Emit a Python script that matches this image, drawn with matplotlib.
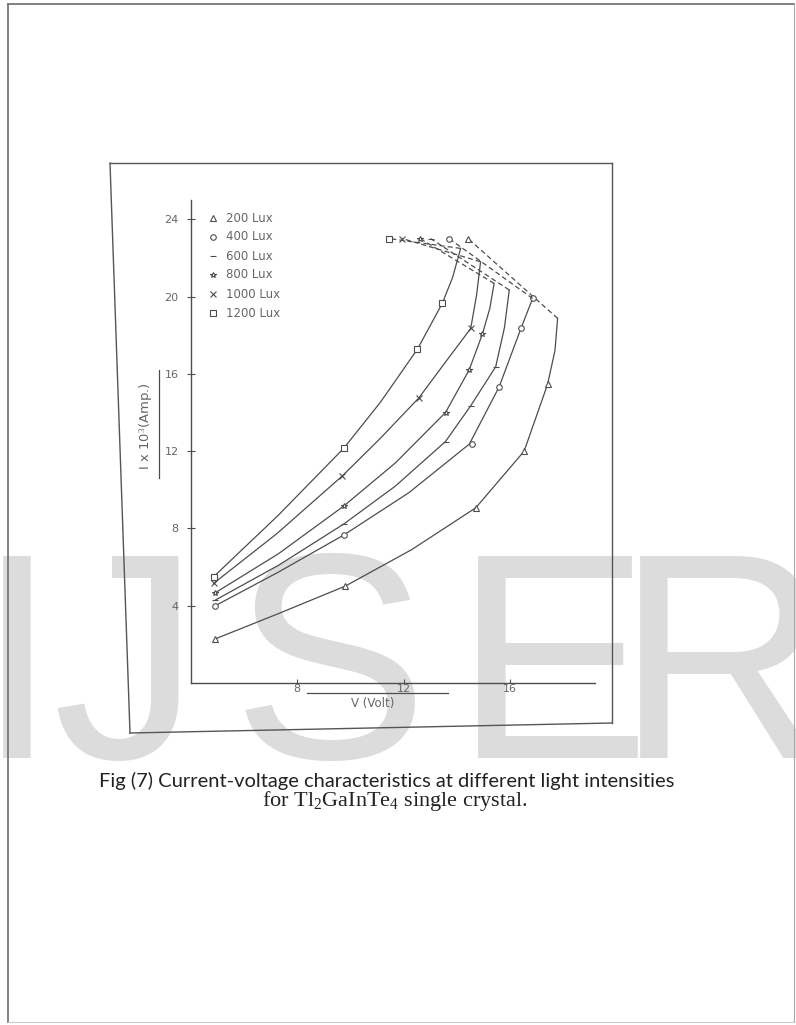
import matplotlib
matplotlib.use('Agg')
import matplotlib.pyplot as plt

W, H = 796, 1025
plt.rcParams['mathtext.fontset'] = 'custom'
plt.rcParams['mathtext.rm'] = 'Liberation Serif'
plt.rcParams['mathtext.it'] = 'Liberation Serif:italic'

# ---------------- data ----------------
series_labels = ['200 Lux', '400 Lux', '600 Lux', '800 Lux', '1000 Lux', '1200 Lux']

# traced solid curves (V in volt, I in 1e-3 A)
curve_v_200 = [4.9, 7.3, 9.81, 12.3, 14.72, 16.54, 17.42, 17.7, 17.8]
curve_i_200 = [2.28, 3.6, 5.02, 6.9, 9.07, 12.0, 15.45, 17.2, 18.87]
curve_v_400 = [4.91, 7.3, 9.75, 12.2, 14.48, 15.6, 16.42, 16.86]
curve_i_400 = [4.0, 5.75, 7.66, 9.85, 12.37, 15.33, 18.35, 19.9]
curve_v_600 = [4.91, 7.3, 9.75, 11.7, 13.58, 14.53, 15.47, 15.8, 15.98]
curve_i_600 = [4.29, 6.1, 8.23, 10.2, 12.5, 14.35, 16.37, 18.4, 20.34]
curve_v_800 = [4.91, 7.3, 9.75, 11.7, 13.58, 14.47, 14.97, 15.25, 15.41]
curve_i_800 = [4.67, 6.7, 9.16, 11.4, 14.0, 16.2, 18.06, 19.4, 20.68]
curve_v_1000 = [4.85, 7.23, 9.69, 11.13, 12.58, 13.52, 14.53, 14.75, 14.9]
curve_i_1000 = [5.16, 7.73, 10.71, 12.67, 14.76, 16.5, 18.35, 20.08, 21.8]
curve_v_1200 = [4.85, 7.29, 9.75, 11.13, 12.52, 13.46, 13.85, 14.15]
curve_i_1200 = [5.5, 8.69, 12.15, 14.53, 17.27, 19.65, 21.0, 22.49]

# measured points (markers)
pts_v_200 = [4.9, 9.81, 14.72, 16.54, 17.42]
pts_i_200 = [2.28, 5.02, 9.07, 12.0, 15.45]
pts_v_400 = [4.91, 9.75, 14.59, 15.6, 16.42, 16.86]
pts_i_400 = [4.0, 7.66, 12.37, 15.33, 18.35, 19.9]
pts_v_600 = [4.91, 9.75, 13.58, 14.53, 15.47]
pts_i_600 = [4.29, 8.23, 12.5, 14.35, 16.37]
pts_v_800 = [4.91, 9.75, 13.58, 14.47, 14.97]
pts_i_800 = [4.67, 9.16, 14.0, 16.2, 18.06]
pts_v_1000 = [4.85, 9.69, 12.58, 14.53]
pts_i_1000 = [5.16, 10.71, 14.76, 18.35]
pts_v_1200 = [4.85, 9.75, 12.52, 13.46]
pts_i_1200 = [5.5, 12.15, 17.27, 19.65]

# dashed (breakdown) segments: end points near I = 23
top_v = [14.43, 13.71, 13.02, 12.62, 11.95, 11.45]
top_i = [23.0, 23.0, 23.0, 23.0, 23.0, 23.0]

x_ticks = [8, 12, 16]
y_ticks = [4, 8, 12, 16, 20, 24]

curves_v = [curve_v_200, curve_v_400, curve_v_600, curve_v_800, curve_v_1000, curve_v_1200]
curves_i = [curve_i_200, curve_i_400, curve_i_600, curve_i_800, curve_i_1000, curve_i_1200]
pts_v = [pts_v_200, pts_v_400, pts_v_600, pts_v_800, pts_v_1000, pts_v_1200]
pts_i = [pts_i_200, pts_i_400, pts_i_600, pts_i_800, pts_i_1000, pts_i_1200]

# ---------------- styles ----------------
marker_styles = ['^', 'o', '_', '*', 'x', 's']
ink = '#4d4d4d'
soft = '#666666'

fig = plt.figure(figsize=(W / 100, H / 100), dpi=100)
fig.patch.set_facecolor('white')

def fx(px):
    return px / W

def fy(py):
    return 1 - py / H

# page border
pb = '#777777'
fig.add_artist(plt.Line2D([fx(8), fx(8)], [fy(4), fy(1022)], color=pb, lw=1.3))
fig.add_artist(plt.Line2D([fx(8), fx(794)], [fy(4), fy(4)], color=pb, lw=1.3))
fig.add_artist(plt.Line2D([fx(794), fx(794)], [fy(4), fy(1022)], color='#aaaaaa', lw=0.8))
fig.add_artist(plt.Line2D([fx(8), fx(794)], [fy(1022), fy(1022)], color='#cccccc', lw=0.8))

# watermark, letter by letter
wm_letters = ['I', 'J', 'S', 'E', 'R']
wm_centers = [17, 126, 330, 552, 722]
for ch, cx in zip(wm_letters, wm_centers):
    fig.text(fx(cx), fy(758), ch, fontsize=212, color='#dcdcdc',
             family='Liberation Sans', ha='center', va='baseline', zorder=-5)

# scanned frame around the figure
frame_col = '#555555'
fig.add_artist(plt.Line2D([fx(110), fx(612)], [fy(163), fy(163)], color=frame_col, lw=1.0))
fig.add_artist(plt.Line2D([fx(110), fx(130)], [fy(163), fy(733)], color=frame_col, lw=1.0))
fig.add_artist(plt.Line2D([fx(130), fx(612)], [fy(733), fy(723)], color=frame_col, lw=1.0))
fig.add_artist(plt.Line2D([fx(612), fx(612)], [fy(163), fy(723)], color=frame_col, lw=1.0))

# axes: V=4 at px 191, V=19.2 at px 594.8 ; I=0 at py 683.1, I=25 at py 199.9
ax = fig.add_axes([fx(191), fy(683.1), (594.8 - 191) / W, (683.1 - 199.9) / H])
ax.patch.set_alpha(0)
ax.set_xlim(4, 19.2)
ax.set_ylim(0, 25)
for s in ['top', 'right']:
    ax.spines[s].set_visible(False)
for s in ['left', 'bottom']:
    ax.spines[s].set_color(ink)
    ax.spines[s].set_linewidth(1.0)
ax.set_xticks(x_ticks)
ax.set_yticks(y_ticks)
ax.tick_params(axis='x', direction='in', length=3, width=0.8, colors=ink,
               labelcolor=soft, labelsize=8, pad=0.5)
ax.tick_params(axis='y', direction='inout', length=6, width=0.8, colors=ink,
               labelcolor=soft, labelsize=8, pad=6)

for k in range(6):
    ax.plot(curves_v[k], curves_i[k], color=ink, lw=0.9, solid_joinstyle='round')
    ax.plot(pts_v[k], pts_i[k], linestyle='none', marker=marker_styles[k], ms=4,
            mfc='white', mec=ink, mew=0.8)
    ax.plot([curves_v[k][-1], top_v[k]], [curves_i[k][-1], top_i[k]],
            color=ink, lw=0.9, ls=(0, (4, 2.5)))
    ax.plot([top_v[k]], [top_i[k]], linestyle='none', marker=marker_styles[k], ms=4,
            mfc='white', mec=ink, mew=0.8)

# legend (hand placed as in the original)
leg_rows = [218.3, 236.7, 256, 275, 294, 313.3]
for k in range(6):
    fig.add_artist(plt.Line2D([fx(213)], [fy(leg_rows[k])], linestyle='none',
                              marker=marker_styles[k], ms=4, mfc='white', mec=ink, mew=0.8))
    fig.text(fx(226), fy(leg_rows[k]), series_labels[k], fontsize=8.5, color=soft,
             family='DejaVu Sans', ha='left', va='center')

# axis titles
fig.text(fx(146), fy(426), r'I x 10$^{3}$(Amp.)', rotation=90, fontsize=9.5, color=soft,
         family='DejaVu Sans', ha='center', va='center')
fig.add_artist(plt.Line2D([fx(159), fx(159)], [fy(370), fy(478)], color=ink, lw=0.9))
fig.text(fx(373), fy(704), 'V (Volt)', fontsize=8.5, color=soft,
         family='DejaVu Sans', ha='center', va='center')
fig.add_artist(plt.Line2D([fx(307), fx(448)], [fy(693), fy(693)], color=ink, lw=0.9))

# caption
fig.text(fx(387), fy(781), 'Fig (7) Current-voltage characteristics at different light intensities',
         fontsize=14.5, color='#222222', family='Lato', ha='center', va='center')
fig.text(fx(395), fy(801), r'for Tl$_\mathrm{2}$GaInTe$_\mathrm{4}$ single crystal.',
         fontsize=16, color='#222222', family='Liberation Serif', ha='center', va='center')

fig.savefig('out.png', dpi=100, facecolor='white')
